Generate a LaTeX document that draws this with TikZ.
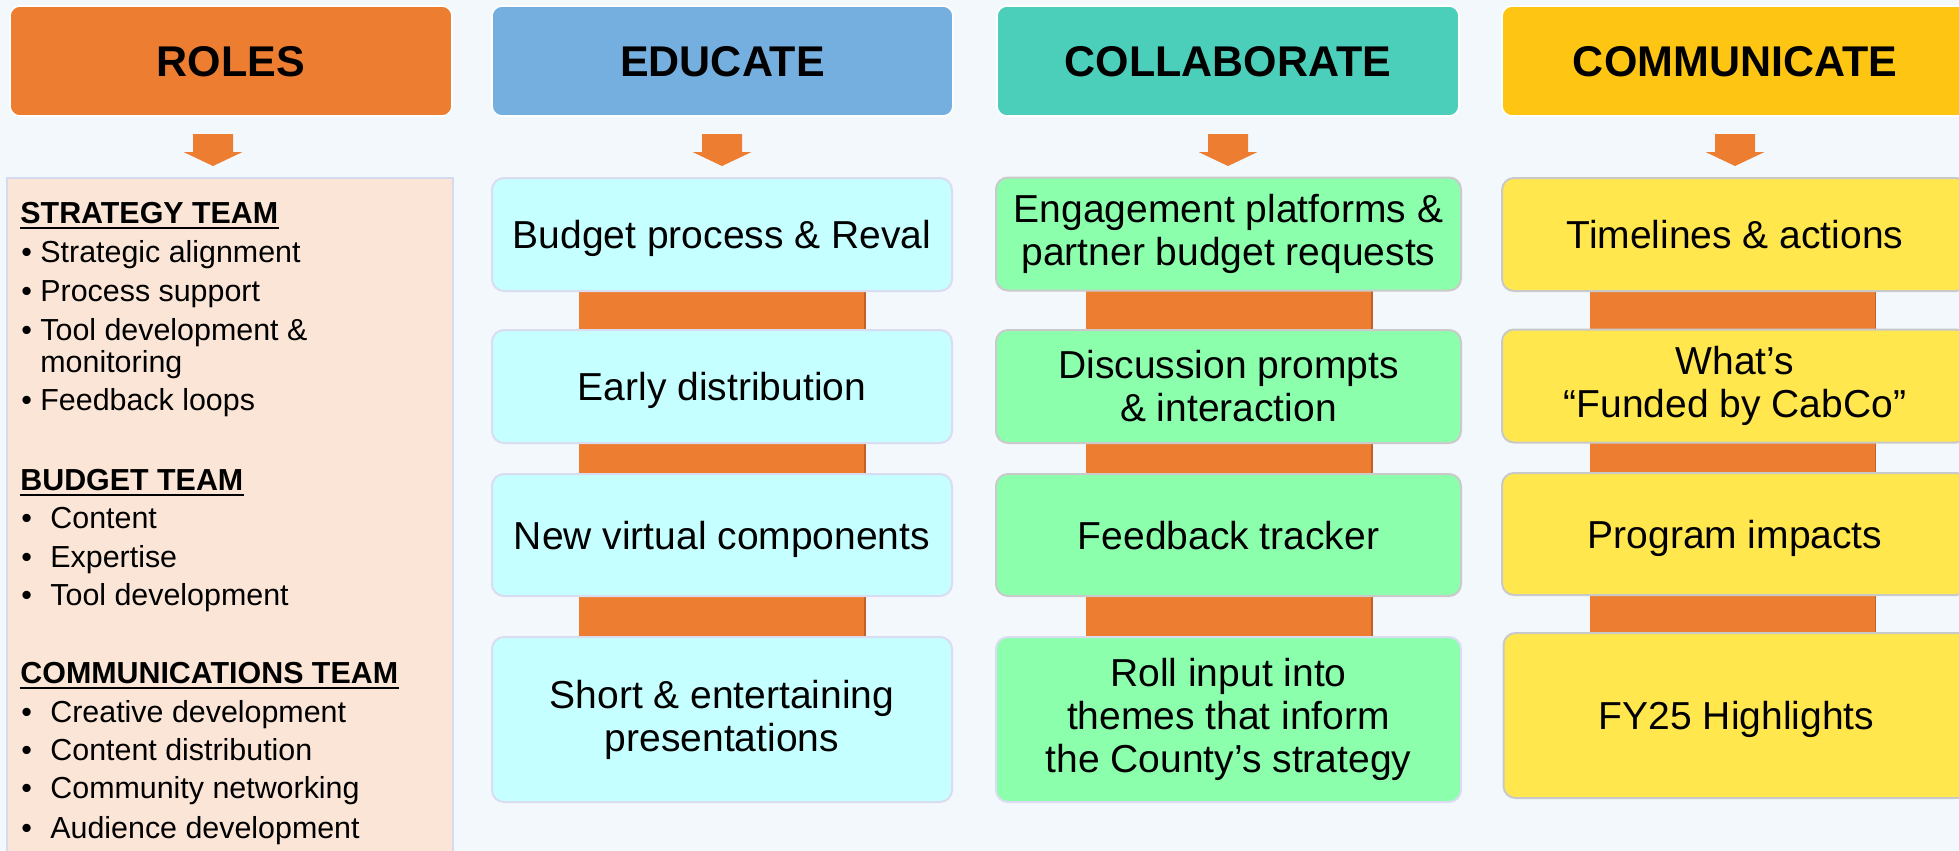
\documentclass[tikz,border=0pt]{standalone}
\usepackage{fontspec}
\setmainfont{Liberation Sans}
\definecolor{bg}{HTML}{F2F8FC}
\definecolor{orng}{HTML}{ED7D31}
\definecolor{orngd}{HTML}{C0612A}
\definecolor{eduh}{HTML}{75AFE0}
\definecolor{colh}{HTML}{4BCFBA}
\definecolor{comh}{HTML}{FEC613}
\definecolor{eduf}{HTML}{C6FFFF}
\definecolor{edud}{HTML}{DADCF2}
\definecolor{colf}{HTML}{8CFFAD}
\definecolor{cold}{HTML}{CACACA}
\definecolor{comf}{HTML}{FFE74D}
\definecolor{comd}{HTML}{C9C9C9}
\definecolor{rolef}{HTML}{FBE5D7}
\definecolor{roled}{HTML}{D5DBEF}
\begin{document}
\begin{tikzpicture}[x=0.5pt,y=-0.5pt,
  hdr/.style={rounded corners=5pt, draw=white, line width=0.8pt, minimum height=55pt, inner sep=0pt, text depth=0pt, font=\bfseries\fontsize{21.5}{24}\selectfont},
  cbox/.style={rounded corners=6pt, line width=1pt, inner sep=0pt, align=center, font=\fontsize{19.5}{21.5}\selectfont},
  edubox/.style={cbox, fill=eduf, draw=edud, minimum width=230pt},
  colbox/.style={cbox, fill=colf, draw=cold, minimum width=232.5pt},
  combox/.style={cbox, fill=comf, draw=comd, minimum width=233pt},
  oneline/.style={text depth=0pt},
  roletxt/.style={anchor=base west, inner sep=0pt, font=\fontsize{15.2}{18}\selectfont},
  rolehead/.style={roletxt, font=\bfseries\fontsize{15.2}{18}\selectfont},
  barcol/.style={fill=orng}
]
\fill[bg] (0,0) rectangle (1959,851);
\useasboundingbox (0,0) rectangle (1959,851);
\clip (0,0) rectangle (1959,851);

% headers
\node[hdr, fill=orng, minimum width=221pt] (hroles) at (231,61) {ROLES};
\node[hdr, fill=eduh, minimum width=230.5pt] (hedu) at (722.5,61) {EDUCATE};
\node[hdr, fill=colh, minimum width=231pt] (hcol) at (1228,61) {COLLABORATE};
\node[hdr, fill=comh, minimum width=233pt] (hcom) at (1735,61) {COMMUNICATE};

% down arrows
\foreach \c in {213,722,1228,1735}
  \fill[orng] (\c-20,134) -- (\c+20,134) -- (\c+20,152) -- (\c+29.5,152) -- (\c,166)
     -- (\c-29.5,152) -- (\c-20,152) -- cycle;

% connecting bars
\foreach \c in {722,1229,1732.5}{
  \fill[barcol] (\c-143,289) rectangle (\c+143,639);
  \draw[orngd, line width=0.6pt] (\c+143,289) -- (\c+143,639);
}

% roles panel
\draw[fill=rolef, draw=roled, line width=1.2pt] (7,178) rectangle (453,880);

\node[rolehead] (st) at (20,223) {STRATEGY TEAM};
\draw[line width=0.9pt] ([yshift=-2.6pt]st.base west) -- ([yshift=-2.6pt]st.base east);
\node[roletxt] (sb1) at (21,262) {•};
\node[roletxt] (s1) at (40,262) {Strategic alignment};
\node[roletxt] (sb2) at (21,301) {•};
\node[roletxt] (s2) at (40,301) {Process support};
\node[roletxt] (sb3) at (21,340) {•};
\node[roletxt] (s3) at (40,340) {Tool development \&};
\node[roletxt] (s3b) at (40,372) {monitoring};
\node[roletxt] (sb4) at (21,410) {•};
\node[roletxt] (s4) at (40,410) {Feedback loops};

\node[rolehead] (bt) at (20,490) {BUDGET TEAM};
\draw[line width=0.9pt] ([yshift=-2.6pt]bt.base west) -- ([yshift=-2.6pt]bt.base east);
\node[roletxt] (bb1) at (21,528) {•};
\node[roletxt] (b1) at (50,528) {Content};
\node[roletxt] (bb2) at (21,567) {•};
\node[roletxt] (b2) at (50,567) {Expertise};
\node[roletxt] (bb3) at (21,605) {•};
\node[roletxt] (b3) at (50,605) {Tool development};

\node[rolehead] (ct) at (20,683) {COMMUNICATIONS TEAM};
\draw[line width=0.9pt] ([yshift=-2.6pt]ct.base west) -- ([yshift=-2.6pt]ct.base east);
\node[roletxt] (cb1) at (21,722) {•};
\node[roletxt] (c1t) at (50,722) {Creative development};
\node[roletxt] (cb2) at (21,760) {•};
\node[roletxt] (c2t) at (50,760) {Content distribution};
\node[roletxt] (cb3) at (21,798) {•};
\node[roletxt] (c3t) at (50,798) {Community networking};
\node[roletxt] (cb4) at (21,838) {•};
\node[roletxt] (c4t) at (50,838) {Audience development};

% educate
\node[edubox, oneline, minimum height=56.5pt] (e1) at (722,234.5) {Budget process \& Reval};
\node[edubox, oneline, minimum height=56.5pt] (e2) at (722,386.5) {Early distribution};
\node[edubox, oneline, minimum height=61pt] (e3) at (722,535) {New virtual components};
\node[edubox, minimum height=82.5pt] (e4) at (722,719.5) {Short \& entertaining\\presentations};

% collaborate
\node[colbox, minimum height=56.5pt] (c1) at (1228.5,234) {Engagement platforms \&\\partner budget requests};
\node[colbox, minimum height=56.5pt] (c2) at (1228.5,386.5) {Discussion prompts\\\& interaction};
\node[colbox, oneline, minimum height=61pt] (c3) at (1228.5,535) {Feedback tracker};
\node[colbox, draw=edud, minimum height=82.5pt] (c4) at (1228.5,719.5) {Roll input into\\themes that inform\\the County’s strategy};

% communicate
\node[combox, oneline, minimum height=56.5pt] (m1) at (1735,234.5) {Timelines \& actions};
\node[combox, minimum height=56.5pt] (m2) at (1735,386) {What’s\\“Funded by CabCo”};
\node[combox, oneline, minimum height=61pt] (m3) at (1735,534) {Program impacts};
\node[combox, oneline, minimum height=82.5pt] (m4) at (1736.5,715.5) {FY25 Highlights};
\end{tikzpicture}
\end{document}
